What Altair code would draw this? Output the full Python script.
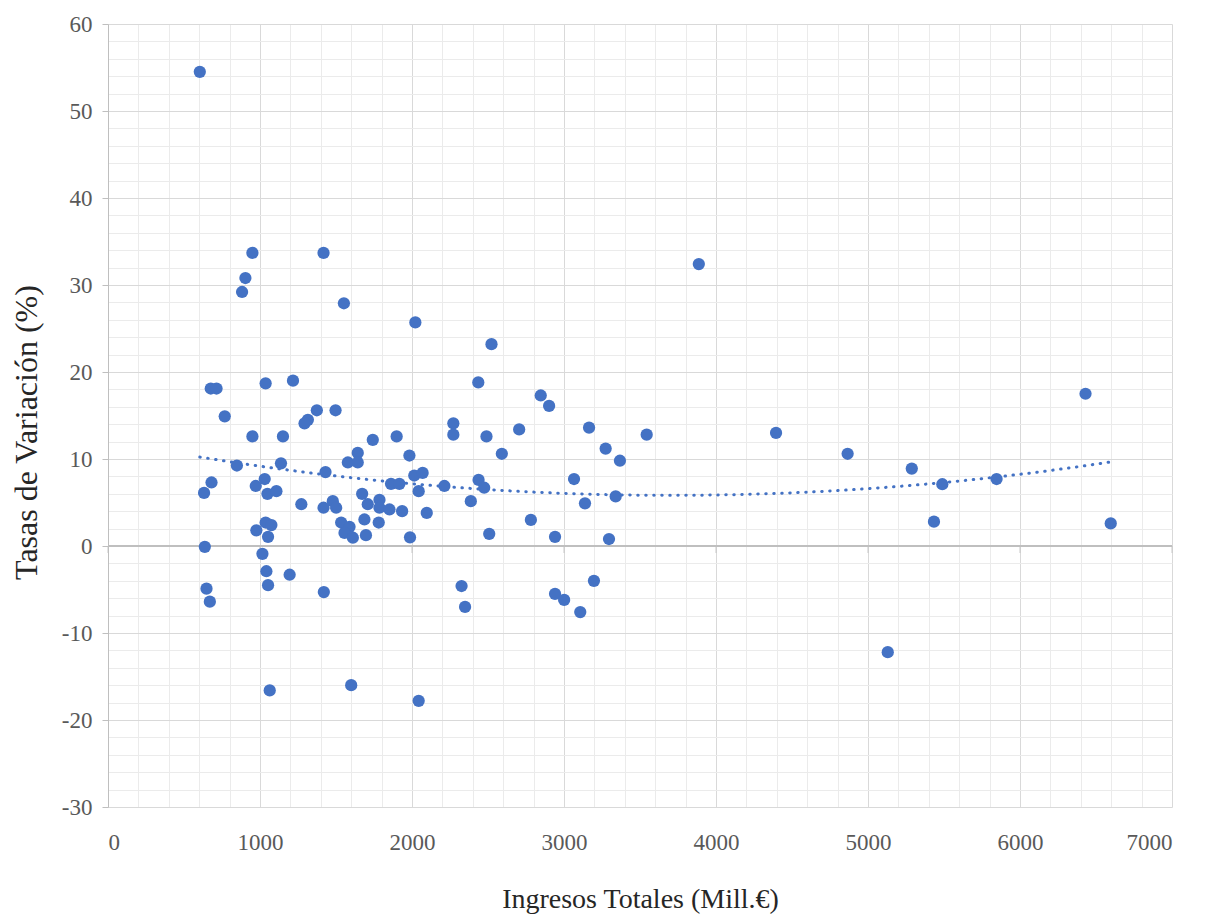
import altair as alt
import pandas as pd

# Ingresos Totales (Mill.€)
ingresos = [
    604, 950, 1418, 904, 882, 1552, 2022, 2523, 3887,
    676, 714, 1037, 1217, 2436, 768, 1374, 1497, 1315, 1293,
    2272, 2272, 950, 1151, 1742, 1899, 2490, 2847, 2902, 2705,
    3165, 3544, 4395, 2591, 3274, 3368, 3066, 3138, 3340, 2782,
    2941, 3296, 3197, 2941, 3001, 3107, 1983, 1643, 1578, 1643,
    848, 1138, 1431, 2015, 2070, 681, 632, 1031, 972, 1049,
    1108, 1862, 1917, 2044, 2213, 2438, 2475, 1672, 1272, 1479,
    1418, 1501, 1709, 1786, 1786, 1852, 1935, 2097, 2387, 1687,
    1781, 1534, 1589, 1556, 1611, 1697, 1987, 2508, 1037, 976,
    1075, 1053, 637, 1016, 1042, 1195, 1053, 648, 670, 1420,
    2326, 2349, 1064, 1600, 2044, 4866, 5288, 5489, 5846, 5434,
    6597, 6431, 5130,
]
# Tasas de Variación (%)
tasas = [
    54.5, 33.7, 33.7, 30.8, 29.2, 27.9, 25.7, 23.2, 32.4,
    18.1, 18.1, 18.7, 19.0, 18.8, 14.9, 15.6, 15.6, 14.5, 14.1,
    14.1, 12.8, 12.6, 12.6, 12.2, 12.6, 12.6, 17.3, 16.1, 13.4,
    13.6, 12.8, 13.0, 10.6, 11.2, 9.8, 7.7, 4.9, 5.7, 3.0,
    1.05, 0.8, -4.0, -5.5, -6.2, -7.6, 10.4, 10.7, 9.6, 9.6,
    9.25, 9.5, 8.5, 8.1, 8.4, 7.3, 6.1, 7.7, 6.9, 6.0,
    6.3, 7.15, 7.15, 6.3, 6.9, 7.6, 6.7, 6.0, 4.8, 5.15,
    4.4, 4.4, 4.8, 5.3, 4.4, 4.2, 4.0, 3.8, 5.15, 3.05,
    2.7, 2.7, 2.2, 1.5, 0.95, 1.25, 1.0, 1.4, 2.7, 1.8,
    2.4, 1.05, -0.1, -0.9, -2.9, -3.3, -4.5, -4.9, -6.4, -5.3,
    -4.6, -7.0, -16.6, -16.0, -17.8, 10.6, 8.9, 7.1, 7.7, 2.8,
    2.6, 17.5, -12.2,
]

x_ticks = [0, 1000, 2000, 3000, 4000, 5000, 6000, 7000]
y_ticks = [-30, -20, -10, 0, 10, 20, 30, 40, 50, 60]
x_minor = [v for v in range(0, 7001, 200) if v % 1000]
y_minor = [v for v in range(-30, 61, 2) if v % 10]

df = pd.DataFrame({"ingresos": ingresos, "tasas": tasas})
ticks_df = pd.DataFrame({"t": x_ticks})

FONT = "Liberation Serif"
BLUE = "#4472C4"
xs = alt.Scale(domain=[0, 7000], nice=False, zero=False)
ys = alt.Scale(domain=[-30, 60], nice=False, zero=False)

minor = alt.Chart(df).mark_point(opacity=0).encode(
    x=alt.X("ingresos:Q", scale=xs, axis=alt.Axis(
        orient="top", values=x_minor, grid=True, gridColor="#ebebeb",
        labels=False, ticks=False, domain=False, title=None)),
    y=alt.Y("tasas:Q", scale=ys, axis=alt.Axis(
        orient="right", values=y_minor, grid=True, gridColor="#ebebeb",
        labels=False, ticks=False, domain=False, title=None)),
)

zero_line = alt.Chart(df).mark_rule(color="#bfbfbf", strokeWidth=1.3).encode(
    y=alt.Y(datum=0, scale=ys, axis=None)
)

zero_ticks = alt.Chart(ticks_df).mark_tick(
    orient="vertical", size=7, yOffset=3.5, color="#bfbfbf", thickness=1.2
).encode(
    x=alt.X("t:Q", scale=xs, axis=None),
    y=alt.Y(datum=0, scale=ys, axis=None),
)

trend = alt.Chart(df).transform_regression(
    "ingresos", "tasas", method="poly", order=2
).mark_line(color=BLUE, strokeWidth=3, strokeDash=[0.5, 7.5], strokeCap="round").encode(
    x=alt.X("ingresos:Q", scale=xs, axis=None),
    y=alt.Y("tasas:Q", scale=ys, axis=None),
)

points = alt.Chart(df).mark_circle(size=150, color=BLUE, opacity=1).encode(
    x=alt.X("ingresos:Q", scale=xs, axis=alt.Axis(
        orient="bottom", values=x_ticks, grid=True, gridColor="#d9d9d9",
        domain=False, ticks=False, labelExpr="'' + datum.value",
        labelFont=FONT, labelFontSize=23, labelColor="#595959", labelPadding=24,
        title="Ingresos Totales (Mill.€)", titleFont=FONT, titleFontSize=28,
        titleFontWeight="normal", titleColor="#262626",
        titleY=92, titleBaseline="middle")),
    y=alt.Y("tasas:Q", scale=ys, axis=alt.Axis(
        orient="left", values=y_ticks, grid=True, gridColor="#d9d9d9",
        domain=True, domainColor="#bfbfbf", ticks=True, tickColor="#bfbfbf",
        tickSize=6, labelExpr="'' + datum.value",
        labelFont=FONT, labelFontSize=23, labelColor="#595959", labelPadding=10,
        title="Tasas de Variación (%)", titleFont=FONT, titleFontSize=32,
        titleFontWeight="normal", titleColor="#262626",
        titleAngle=270, titleX=-82, titleY=408, titleAlign="center",
        titleBaseline="middle")),
)

chart = alt.layer(minor, zero_line, zero_ticks, trend, points).resolve_axis(
    x="independent", y="independent"
).properties(
    width=1064, height=783,
    autosize=alt.AutoSizeParams(type="none"),
    padding={"left": 100, "top": 16, "right": 30, "bottom": 108},
).configure_view(stroke=None)

chart.save("out.html", embed_options={"renderer": "svg", "actions": False})
